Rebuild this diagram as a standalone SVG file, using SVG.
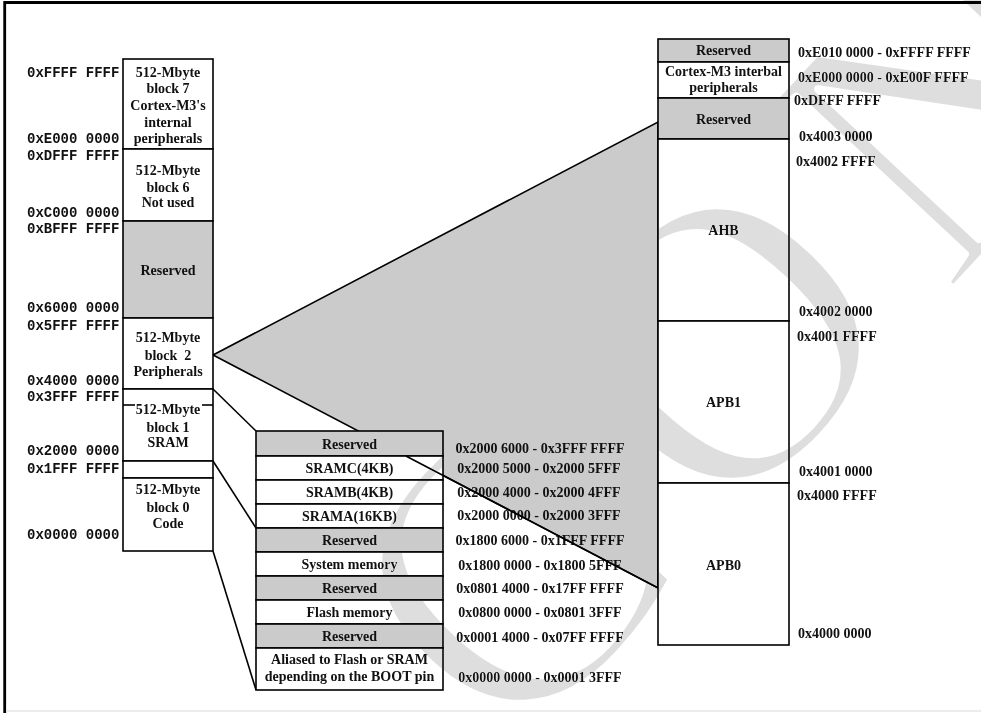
<svg xmlns="http://www.w3.org/2000/svg" width="981" height="713" viewBox="0 0 981 713">
<style>
.box{stroke:#000;stroke-width:1.6;fill:#fff}
.res{stroke:#000;stroke-width:1.6;fill:#cbcbcb}
.t{font-family:"Liberation Serif","Times New Roman",serif;font-weight:bold;font-size:14px;fill:#111;text-anchor:middle}
.a{font-family:"Liberation Serif","Times New Roman",serif;font-weight:bold;font-size:14px;fill:#111}
.m{font-family:"Liberation Mono","Courier New",monospace;font-weight:bold;font-size:14px;fill:#111}
.ln{stroke:#000;stroke-width:1.6;fill:none}
.wm{font-family:"Liberation Serif","Times New Roman",serif;font-size:400px;letter-spacing:40px;fill:#dedede;stroke:#fff;stroke-width:8;stroke-linejoin:round;text-anchor:middle;mix-blend-mode:darken}
</style>
<rect width="981" height="713" fill="#fff"/>
<!-- frame -->
<line x1="4.5" y1="2.5" x2="981" y2="2.5" stroke="#000" stroke-width="3"/>
<line x1="4.7" y1="1" x2="4.7" y2="713" stroke="#000" stroke-width="2.8"/>

<g id="connectors">
  <polygon points="213,355 658,122 658,588" fill="#cbcbcb" stroke="#000" stroke-width="1.6"/>
  <line class="ln" x1="213" y1="389" x2="256" y2="431"/>
  <line class="ln" x1="213" y1="461" x2="256" y2="528"/>
  <line class="ln" x1="213" y1="551" x2="256" y2="690"/>
</g>

<!-- left memory map -->
<g id="left-addresses">
  <text class="m" x="27" y="77">0xFFFF FFFF</text>
  <text class="m" x="27" y="143">0xE000 0000</text>
  <text class="m" x="27" y="160">0xDFFF FFFF</text>
  <text class="m" x="27" y="217">0xC000 0000</text>
  <text class="m" x="27" y="233">0xBFFF FFFF</text>
  <text class="m" x="27" y="312">0x6000 0000</text>
  <text class="m" x="27" y="330">0x5FFF FFFF</text>
  <text class="m" x="27" y="385">0x4000 0000</text>
  <text class="m" x="27" y="401">0x3FFF FFFF</text>
  <text class="m" x="27" y="455">0x2000 0000</text>
  <text class="m" x="27" y="473">0x1FFF FFFF</text>
  <text class="m" x="27" y="539">0x0000 0000</text>
</g>
<g id="block7">
  <rect class="box" x="123" y="59" width="90" height="90"/>
  <text class="t" x="168" y="77">512-Mbyte</text>
  <text class="t" x="168" y="93">block 7</text>
  <text class="t" x="168" y="110">Cortex-M3's</text>
  <text class="t" x="168" y="127">internal</text>
  <text class="t" x="168" y="143">peripherals</text>
</g>
<g id="block6">
  <rect class="box" x="123" y="149" width="90" height="72"/>
  <text class="t" x="168" y="175">512-Mbyte</text>
  <text class="t" x="168" y="192">block 6</text>
  <text class="t" x="168" y="207">Not used</text>
</g>
<g id="reserved-left">
  <rect class="res" x="123" y="221" width="90" height="97"/>
  <text class="t" x="168" y="275">Reserved</text>
</g>
<g id="block2">
  <rect class="box" x="123" y="318" width="90" height="71"/>
  <text class="t" x="168" y="342">512-Mbyte</text>
  <text class="t" x="168" y="360" xml:space="preserve">block  2</text>
  <text class="t" x="168" y="376">Peripherals</text>
</g>
<g id="block1">
  <rect class="box" x="123" y="389" width="90" height="72"/>
  <line class="ln" x1="123" y1="405" x2="135" y2="405"/>
  <line class="ln" x1="202" y1="405" x2="213" y2="405"/>
  <text class="t" x="168" y="414">512-Mbyte</text>
  <text class="t" x="168" y="432">block 1</text>
  <text class="t" x="168" y="447">SRAM</text>
</g>
<g id="gap-block">
  <rect class="box" x="123" y="461" width="90" height="17"/>
</g>
<g id="block0">
  <rect class="box" x="123" y="478" width="90" height="73"/>
  <text class="t" x="168" y="494">512-Mbyte</text>
  <text class="t" x="168" y="512">block 0</text>
  <text class="t" x="168" y="528">Code</text>
</g>

<!-- middle table -->
<g id="mid-reserved1"><rect class="res" x="256" y="431" width="187" height="25"/><text class="t" x="349.5" y="449">Reserved</text></g>
<g id="sramc"><rect class="box" x="256" y="456" width="187" height="24"/><text class="t" x="349.5" y="473">SRAMC(4KB)</text></g>
<g id="sramb"><rect class="box" x="256" y="480" width="187" height="24"/><text class="t" x="349.5" y="497">SRAMB(4KB)</text></g>
<g id="srama"><rect class="box" x="256" y="504" width="187" height="24"/><text class="t" x="349.5" y="521">SRAMA(16KB)</text></g>
<g id="mid-reserved2"><rect class="res" x="256" y="528" width="187" height="24"/><text class="t" x="349.5" y="545">Reserved</text></g>
<g id="sysmem"><rect class="box" x="256" y="552" width="187" height="24"/><text class="t" x="349.5" y="569">System memory</text></g>
<g id="mid-reserved3"><rect class="res" x="256" y="576" width="187" height="24"/><text class="t" x="349.5" y="593">Reserved</text></g>
<g id="flash"><rect class="box" x="256" y="600" width="187" height="24"/><text class="t" x="349.5" y="617">Flash memory</text></g>
<g id="mid-reserved4"><rect class="res" x="256" y="624" width="187" height="24"/><text class="t" x="349.5" y="641">Reserved</text></g>
<g id="aliased"><rect class="box" x="256" y="648" width="187" height="42"/><text class="t" x="349.5" y="664">Aliased to Flash or SRAM</text><text class="t" x="349.5" y="681">depending on the BOOT pin</text></g>

<g id="mid-addresses">
  <text class="t" x="540" y="453">0x2000 6000 - 0x3FFF FFFF</text>
  <text class="t" x="539" y="473">0x2000 5000 - 0x2000 5FFF</text>
  <text class="t" x="539" y="497">0x2000 4000 - 0x2000 4FFF</text>
  <text class="t" x="539" y="520">0x2000 0000 - 0x2000 3FFF</text>
  <text class="t" x="540" y="545">0x1800 6000 - 0x1FFF FFFF</text>
  <text class="t" x="540" y="570">0x1800 0000 - 0x1800 5FFF</text>
  <text class="t" x="540" y="593">0x0801 4000 - 0x17FF FFFF</text>
  <text class="t" x="540" y="617">0x0800 0000 - 0x0801 3FFF</text>
  <text class="t" x="540" y="642">0x0001 4000 - 0x07FF FFFF</text>
  <text class="t" x="540" y="682">0x0000 0000 - 0x0001 3FFF</text>
</g>

<!-- right column -->
<g id="r-reserved1"><rect class="res" x="658" y="39" width="131" height="23"/><text class="t" x="723.5" y="55">Reserved</text></g>
<g id="r-cortex"><rect class="box" x="658" y="62" width="131" height="36"/><text class="t" x="723.5" y="76">Cortex-M3 interbal</text><text class="t" x="723.5" y="92">peripherals</text></g>
<g id="r-reserved2"><rect class="res" x="658" y="98" width="131" height="41"/><text class="t" x="723.5" y="124">Reserved</text></g>
<g id="ahb"><rect class="box" x="658" y="139" width="131" height="182"/><text class="t" x="723.5" y="235">AHB</text></g>
<g id="apb1"><rect class="box" x="658" y="321" width="131" height="162"/><text class="t" x="723.5" y="407">APB1</text></g>
<g id="apb0"><rect class="box" x="658" y="483" width="131" height="162"/><text class="t" x="723.5" y="570">APB0</text></g>

<g id="right-addresses">
  <text class="a" x="798" y="57">0xE010 0000 - 0xFFFF FFFF</text>
  <text class="a" x="798" y="82">0xE000 0000 - 0xE00F FFFF</text>
  <text class="a" x="794" y="105">0xDFFF FFFF</text>
  <text class="a" x="799" y="141">0x4003 0000</text>
  <text class="a" x="796" y="166">0x4002 FFFF</text>
  <text class="a" x="799" y="316">0x4002 0000</text>
  <text class="a" x="797" y="341">0x4001 FFFF</text>
  <text class="a" x="799" y="476">0x4001 0000</text>
  <text class="a" x="797" y="500">0x4000 FFFF</text>
  <text class="a" x="798" y="638">0x4000 0000</text>
</g>

<g id="connector-overlay">
  <line class="ln" x1="405.9" y1="456" x2="658" y2="588"/>
</g>

<text class="wm" transform="translate(841,410) rotate(-47)" x="0" y="0">CON</text>
<line x1="7" y1="711" x2="981" y2="711" stroke="#e6e6e6" stroke-width="1.5"/>
</svg>
